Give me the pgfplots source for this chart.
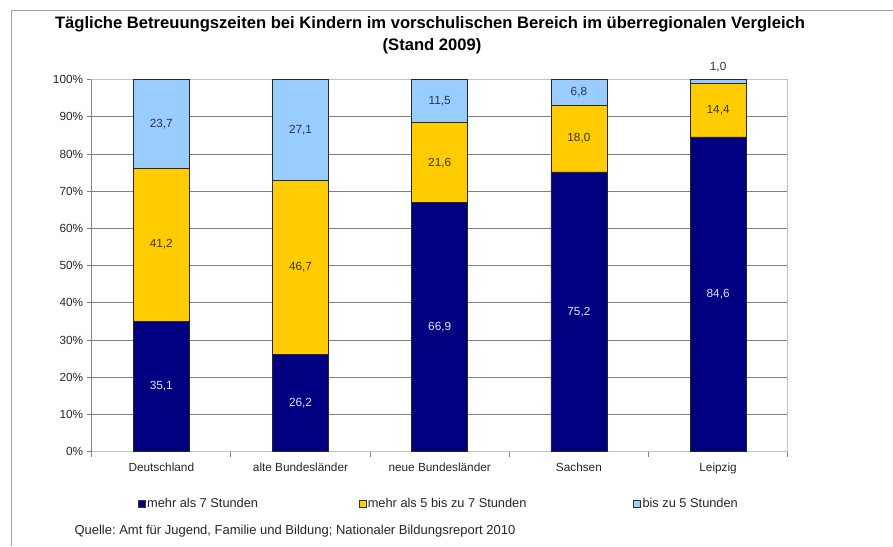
\documentclass[border=0pt]{standalone}
\usepackage{pgfplots}
\pgfplotsset{compat=1.18}
\usepackage{fontspec}
\setmainfont{Liberation Sans}
\frenchspacing
\definecolor{navy}{RGB}{0,0,128}
\definecolor{gold}{RGB}{255,204,0}
\definecolor{lblue}{RGB}{153,204,255}
\definecolor{gridc}{RGB}{128,128,128}
\definecolor{framec}{RGB}{192,192,192}
\definecolor{labnavy}{RGB}{225,225,255}
\definecolor{labgold}{RGB}{60,55,0}
\definecolor{lablblue}{RGB}{40,50,90}
\pgfplotstableread{
x mehr7 mehr5 bis5
0 35.1 41.2 23.7
1 26.2 46.7 27.1
2 66.9 21.6 11.5
3 75.2 18.0 6.8
4 84.6 14.4 1.0
}\datatab
\pgfplotstableread{
x y v
0 17.55 35.1
1 13.10 26.2
2 33.45 66.9
3 37.60 75.2
4 42.30 84.6
}\labA
\pgfplotstableread{
x y v
0 55.70 41.2
1 49.55 46.7
2 77.70 21.6
3 84.20 18.0
4 91.80 14.4
}\labB
\pgfplotstableread{
x y v
0 88.15 23.7
1 86.45 27.1
2 94.25 11.5
3 96.60 6.8
4 103.4 1.0
}\labC
\begin{document}
\begin{tikzpicture}
\useasboundingbox (0,0) rectangle (893pt,546pt);
\draw[framec!85!black, line width=1pt] (11.5pt,0) -- (11.5pt,535pt) -- (893pt,535pt);
\node[font=\bfseries\fontsize{16.6}{19}\selectfont] at (430pt,522pt) {Tägliche Betreuungszeiten bei Kindern im vorschulischen Bereich im überregionalen Vergleich};
\node[font=\bfseries\fontsize{16.6}{19}\selectfont] at (432pt,500pt) {(Stand 2009)};
\begin{axis}[
  at={(91.7pt,94.3pt)}, anchor=south west,
  scale only axis, width=696pt, height=372pt,
  ybar stacked, bar width=56pt,
  xmin=-0.5, xmax=4.5, ymin=0, ymax=100,
  xtick={-0.5,0.5,...,4.5}, x tick label as interval,
  xticklabels={Deutschland, alte Bundesländer, neue Bundesländer, Sachsen, Leipzig},
  ytick={0,10,...,100},
  yticklabel={\pgfmathprintnumber{\tick}\%},
  ymajorgrids, grid style={gridc, line width=0.9pt},
  axis line style={framec, line width=0.9pt},
  tick style={gridc, line width=0.9pt},
  tick align=outside, major tick length=5pt,
  xtick pos=bottom, ytick pos=left,
  ticklabel style={font=\fontsize{11.8}{13}\selectfont, text=black!85},
  xticklabel style={yshift=-3pt},
  /pgf/number format/assume math mode=true,
  legend columns=3,
  legend cell align=left,
  legend image code/.code={\draw[#1, draw=black!80, line width=0.7pt] (0pt,-3.5pt) rectangle (7pt,3.5pt);},
  legend style={at={(axis description cs:0.0661,-0.139)}, anchor=west, draw=none, inner sep=0pt,
    font=\fontsize{12.8}{14}\selectfont, text=black!85,
    nodes={inner xsep=1.5pt, inner ysep=0pt},
    /tikz/every even column/.append style={column sep=0pt}},
]
\addplot[fill=navy, draw=black!85, line width=0.7pt] table[x=x, y=mehr7] {\datatab};
\addlegendentry{\makebox[210pt][l]{mehr als 7 Stunden}}
\addplot[fill=gold, draw=black!85, line width=0.7pt] table[x=x, y=mehr5] {\datatab};
\addlegendentry{\makebox[264pt][l]{mehr als 5 bis zu 7 Stunden}}
\addplot[fill=lblue, draw=black!85, line width=0.7pt] table[x=x, y=bis5] {\datatab};
\addlegendentry{bis zu 5 Stunden}
\end{axis}
\draw[gridc, line width=0.9pt] (91.7pt,94.3pt) -- (91.7pt,466.3pt);
\begin{axis}[
  at={(91.7pt,94.3pt)}, anchor=south west,
  scale only axis, width=696pt, height=372pt,
  xmin=-0.5, xmax=4.5, ymin=0, ymax=100,
  hide axis, clip=false,
  /pgf/number format/assume math mode=true,
  nodes near coords={\pgfmathprintnumber[fixed,fixed zerofill,precision=1,use comma,assume math mode=true]{\pgfplotspointmeta}},
  point meta=explicit,
  nodes near coords style={anchor=center, font=\fontsize{11.8}{13}\selectfont, inner sep=0pt},
]
\addplot[only marks, mark=*, mark size=0pt, mark options={draw=none,fill=none}, nodes near coords style={text=labnavy}] table[x=x, y=y, meta=v] {\labA};
\addplot[only marks, mark=*, mark size=0pt, mark options={draw=none,fill=none}, nodes near coords style={text=labgold}] table[x=x, y=y, meta=v] {\labB};
\addplot[only marks, mark=*, mark size=0pt, mark options={draw=none,fill=none}, nodes near coords style={text=lablblue}] table[x=x, y=y, meta=v] {\labC};
\end{axis}
\node[anchor=west, font=\fontsize{13}{15}\selectfont, text=black!85] at (71pt,15pt) {Quelle: Amt für Jugend, Familie und Bildung; Nationaler Bildungsreport 2010};
\end{tikzpicture}
\end{document}
